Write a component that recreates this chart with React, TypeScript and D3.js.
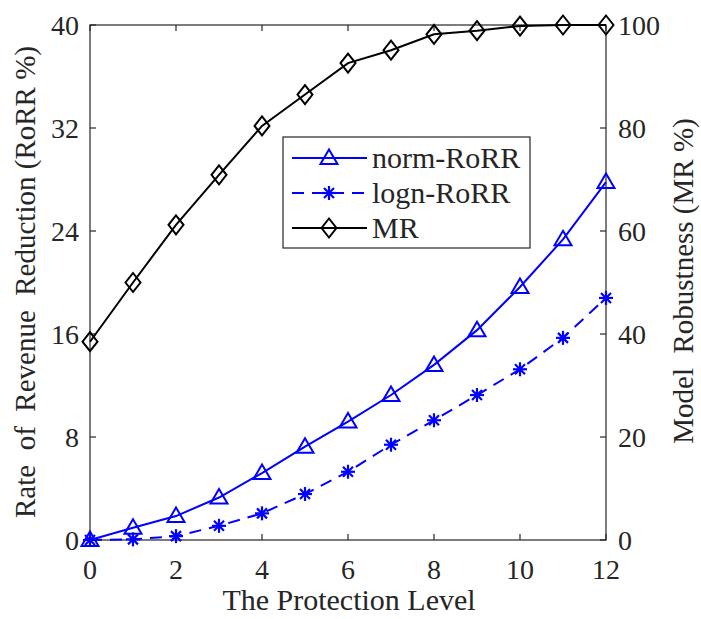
import React from "react";
import * as d3 from "d3";

const levels = [0, 1, 2, 3, 4, 5, 6, 7, 8, 9, 10, 11, 12];
const normRoRR = [0, 0.95, 1.86, 3.3, 5.2, 7.25, 9.2, 11.26, 13.6, 16.3, 19.65, 23.35, 27.8];
const lognRoRR = [0, 0.05, 0.3, 1.1, 2.07, 3.57, 5.3, 7.4, 9.3, 11.26, 13.26, 15.7, 18.8];
const mr = [38.5, 50.0, 61.2, 70.9, 80.4, 86.5, 92.6, 95.1, 98.2, 98.9, 99.8, 100, 100];
const xTicks = [0, 2, 4, 6, 8, 10, 12];
const leftTicks = [0, 8, 16, 24, 32, 40];
const rightTicks = [0, 20, 40, 60, 80, 100];
const legendLabels = ["norm-RoRR", "logn-RoRR", "MR"];

const W = 701, H = 619;
const L = 90, R = 606, T = 25, B = 540;
const FONT = "'Liberation Serif', 'Times New Roman', serif";
const AX = "#262626";
const BLUE = "#0000ff";

const x = d3.scaleLinear().domain([0, 12]).range([L, R]);
const yL = d3.scaleLinear().domain([0, 40]).range([B, T]);
const yR = d3.scaleLinear().domain([0, 100]).range([B, T]);

function Triangle({ cx, cy }: { cx: number; cy: number }) {
  const p = [[cx, cy - 8.5], [cx + 8.5, cy + 6], [cx - 8.5, cy + 6]].map((d) => d.join(",")).join(" ");
  return <polygon points={p} fill="none" stroke={BLUE} strokeWidth={2} />;
}
function Star({ cx, cy }: { cx: number; cy: number }) {
  const r = 7;
  const d = 5;
  return (
    <g stroke={BLUE} strokeWidth={2.2}>
      <line x1={cx - r} y1={cy} x2={cx + r} y2={cy} />
      <line x1={cx} y1={cy - r} x2={cx} y2={cy + r} />
      <line x1={cx - d} y1={cy - d} x2={cx + d} y2={cy + d} />
      <line x1={cx - d} y1={cy + d} x2={cx + d} y2={cy - d} />
    </g>
  );
}
function Diamond({ cx, cy }: { cx: number; cy: number }) {
  const p = [[cx, cy - 9.5], [cx + 7.5, cy], [cx, cy + 9.5], [cx - 7.5, cy]].map((d) => d.join(",")).join(" ");
  return <polygon points={p} fill="none" stroke="#000" strokeWidth={2} />;
}

export default function App() {
  const lineL = d3.line<number>().x((_, i) => x(levels[i])).y((d) => yL(d));
  const lineR = d3.line<number>().x((_, i) => x(levels[i])).y((d) => yR(d));
  const tick = 6;
  const legX0 = 283, legY0 = 137, legW = 247, legH = 111;
  const legRows = [158, 193, 228];
  return (
    <svg width={W} height={H} style={{ position: "absolute", left: 0, top: 0, background: "#fff" }} fontFamily={FONT}>
      <rect x={0} y={0} width={W} height={H} fill="#fff" />
      {/* frame */}
      <rect x={L} y={T} width={R - L} height={B - T} fill="none" stroke={AX} strokeWidth={1.2} />
      {/* x ticks */}
      {xTicks.map((t) => (
        <g key={"x" + t}>
          <line x1={x(t)} x2={x(t)} y1={B} y2={B - tick} stroke={AX} strokeWidth={1.2} />
          <line x1={x(t)} x2={x(t)} y1={T} y2={T + tick} stroke={AX} strokeWidth={1.2} />
          <text x={x(t)} y={579} textAnchor="middle" fontSize={28} fill={AX}>{t}</text>
        </g>
      ))}
      {leftTicks.map((t) => (
        <g key={"l" + t}>
          <line x1={L} x2={L + tick} y1={yL(t)} y2={yL(t)} stroke={AX} strokeWidth={1.2} />
          <text x={79} y={yL(t) + 10} textAnchor="end" fontSize={28} fill={AX}>{t}</text>
        </g>
      ))}
      {rightTicks.map((t) => (
        <g key={"r" + t}>
          <line x1={R} x2={R - tick} y1={yR(t)} y2={yR(t)} stroke={AX} strokeWidth={1.2} />
          <text x={618} y={yR(t) + 10} textAnchor="start" fontSize={28} fill={AX}>{t}</text>
        </g>
      ))}
      {/* series */}
      <path d={lineL(normRoRR) || ""} fill="none" stroke={BLUE} strokeWidth={2} />
      {normRoRR.map((v, i) => <Triangle key={"n" + i} cx={x(levels[i])} cy={yL(v)} />)}
      <path d={lineL(lognRoRR) || ""} fill="none" stroke={BLUE} strokeWidth={2} strokeDasharray="12,8" />
      {lognRoRR.map((v, i) => <Star key={"g" + i} cx={x(levels[i])} cy={yL(v)} />)}
      <path d={lineR(mr) || ""} fill="none" stroke="#000" strokeWidth={2} />
      {mr.map((v, i) => <Diamond key={"m" + i} cx={x(levels[i])} cy={yR(v)} />)}
      {/* legend */}
      <rect x={legX0} y={legY0} width={legW} height={legH} fill="#fff" stroke={AX} strokeWidth={1.2} />
      <line x1={292} x2={367} y1={legRows[0]} y2={legRows[0]} stroke={BLUE} strokeWidth={2} />
      <Triangle cx={329} cy={legRows[0]} />
      <line x1={292} x2={367} y1={legRows[1]} y2={legRows[1]} stroke={BLUE} strokeWidth={2} strokeDasharray="12,8" />
      <Star cx={329} cy={legRows[1]} />
      <line x1={292} x2={367} y1={legRows[2]} y2={legRows[2]} stroke="#000" strokeWidth={2} />
      <Diamond cx={329} cy={legRows[2]} />
      {legendLabels.map((s, i) => (
        <text key={s} x={372} y={legRows[i] + 10} fontSize={30} fill={AX}>{s}</text>
      ))}
      {/* axis labels */}
      <text x={349} y={610} textAnchor="middle" fontSize={30} fill={AX}>The Protection Level</text>
      <text transform="translate(35,282) rotate(-90)" textAnchor="middle" fontSize={29} fill={AX} xmlSpace="preserve" style={{ whiteSpace: "pre" }}>
        {"Rate  of  Revenue  Reduction (RoRR %)"}
      </text>
      <text transform="translate(693,281) rotate(-90)" textAnchor="middle" fontSize={29} fill={AX} xmlSpace="preserve" style={{ whiteSpace: "pre" }}>
        {"Model  Robustness (MR %)"}
      </text>
    </svg>
  );
}
